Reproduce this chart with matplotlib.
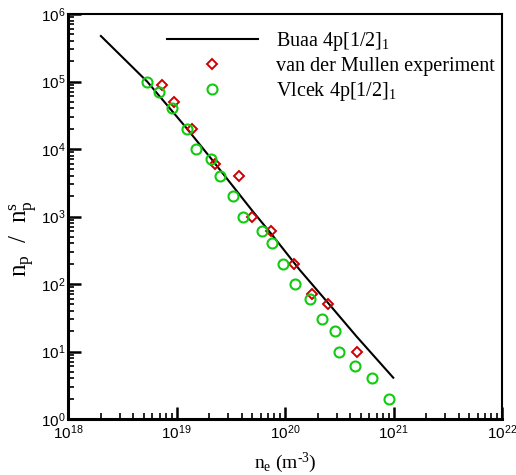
import matplotlib
matplotlib.use("Agg")
import matplotlib.pyplot as plt
import numpy as np

# Buaa 4p[1/2]_1 model curve
buaa_ne = [2.01e18, 5.38e18, 1.24e19, 2.11e19, 4.93e19, 7.53e19, 1.37e20, 2.51e20, 4.58e20, 9.95e20]
buaa_ratio = [4.72e5, 9.93e4, 2.03e4, 7.03e3, 1.25e3, 5.45e2, 1.61e2, 51.8, 16.6, 4.09]

# van der Mullen experiment
mullen_ne = [7.3e18, 9.5e18, 1.39e19, 2.28e19, 3.74e19, 5.0e19, 7.5e19, 1.2e20, 1.79e20, 2.49e20, 4.58e20]
mullen_ratio = [9.0e4, 5.0e4, 2.0e4, 6.0e3, 4.0e3, 1.0e3, 6.0e2, 2.0e2, 70, 50, 10]

# Vlcek 4p[1/2]_1
vlcek_ne = [5.35e18, 6.9e18, 9.1e18, 1.26e19, 1.52e19, 2.1e19, 2.5e19, 3.3e19, 4.1e19,
            6.1e19, 7.6e19, 9.6e19, 1.23e20, 1.7e20, 2.18e20, 2.87e20, 3.17e20, 4.42e20,
            6.4e20, 9.0e20]
vlcek_ratio = [1.0e5, 7.0e4, 4.0e4, 2.0e4, 1.0e4, 7.0e3, 4.0e3, 2.0e3, 1.0e3,
               6.0e2, 4.0e2, 2.0e2, 1.0e2, 60, 30, 20, 10, 6, 4, 2]

xticks = [1e18, 1e19, 1e20, 1e21, 1e22]
xtick_labels = [r'$\mathsf{10^{18}}$', r'$\mathsf{10^{19}}$', r'$\mathsf{10^{20}}$',
                r'$\mathsf{10^{21}}$', r'$\mathsf{10^{22}}$']
yticks = [1e0, 1e1, 1e2, 1e3, 1e4, 1e5, 1e6]
ytick_labels = [r'$\mathsf{10^{0}}$', r'$\mathsf{10^{1}}$', r'$\mathsf{10^{2}}$',
                r'$\mathsf{10^{3}}$', r'$\mathsf{10^{4}}$', r'$\mathsf{10^{5}}$',
                r'$\mathsf{10^{6}}$']

plt.rcParams['font.family'] = ['Liberation Serif', 'DejaVu Serif']
plt.rcParams['mathtext.fontset'] = 'custom'
plt.rcParams['mathtext.rm'] = 'Liberation Serif'
plt.rcParams['mathtext.it'] = 'Liberation Serif:italic'
plt.rcParams['mathtext.bf'] = 'Liberation Serif:bold'
plt.rcParams['mathtext.sf'] = 'Liberation Sans'

fig = plt.figure(figsize=(5.16, 4.75), dpi=100)
ax = fig.add_axes([68/516, 1 - 419/475, (502-68)/516, (419-14)/475])

green = '#10cc10'
red = '#cc0000'

ax.plot(buaa_ne, buaa_ratio, color='black', lw=1.5, label=r'Buaa 4p[1/2]$_\mathrm{1}$')
ax.plot(mullen_ne, mullen_ratio, linestyle='none', marker='D', markersize=5.2,
        markerfacecolor='none', markeredgecolor=red, markeredgewidth=1.4,
        label='van der Mullen experiment')
ax.plot(vlcek_ne, vlcek_ratio, linestyle='none', marker='o', markersize=7.2,
        markerfacecolor='none', markeredgecolor=green, markeredgewidth=1.5,
        label=r'Vlcek 4p[1/2]$_\mathrm{1}$')

ax.set_xscale('log')
ax.set_yscale('log')
ax.set_xlim(1e18, 1e22)
ax.set_ylim(1e0, 1e6)
ax.set_xticks(xticks)
ax.set_xticklabels(xtick_labels)
ax.set_yticks(yticks)
ax.set_yticklabels(ytick_labels)

ax.tick_params(which='both', direction='in', top=False, right=False, labelsize=11, width=1.2)
ax.tick_params(which='major', length=9, width=1.8)
ax.tick_params(which='minor', length=4.5)
ax.tick_params(axis='x', which='major', pad=3)
ax.tick_params(axis='y', which='major', pad=2)

for s in ['left', 'bottom']:
    ax.spines[s].set_linewidth(2.2)
for s in ['top', 'right']:
    ax.spines[s].set_linewidth(1.5)

ax.set_xlabel(r'n$_\mathrm{e}$ (m$^{\text{-3}}$)', fontsize=14)
ax.xaxis.set_label_coords(0.5, -0.078)
ax.set_ylabel(r'n$_\mathrm{p}$  /  n$_\mathrm{p}^\mathrm{s}$', fontsize=18)
ax.yaxis.set_label_coords(-0.066, 0.445)

leg = ax.legend(loc='upper left', bbox_to_anchor=((167-68)/434, 1 - (30-14)/405),
                frameon=False, fontsize=14.5, handlelength=4.5, handletextpad=0.9,
                labelspacing=0.2, borderaxespad=0, borderpad=0)

fig.savefig('out.png', dpi=100)
